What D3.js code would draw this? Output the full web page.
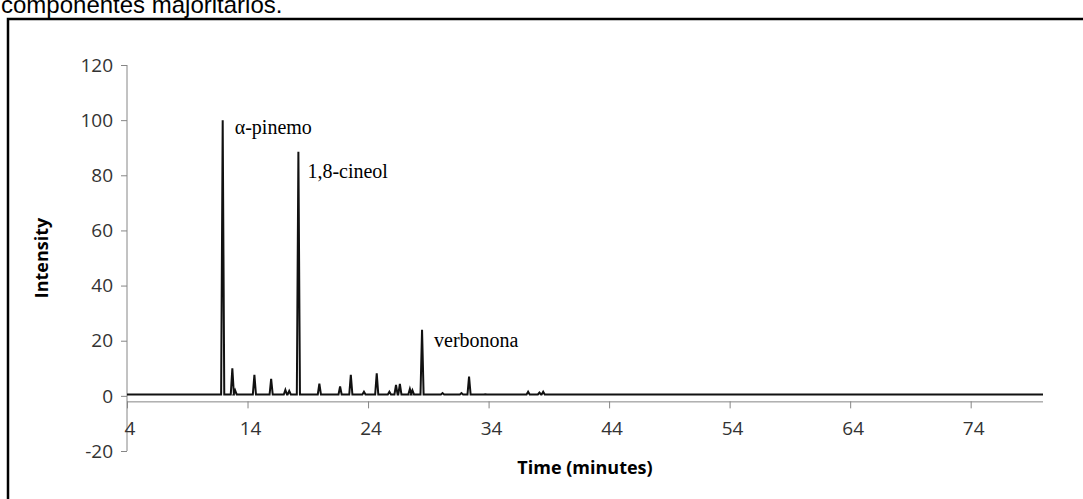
<!DOCTYPE html>
<html>
<head>
<meta charset="utf-8">
<script src="https://cdn.jsdelivr.net/npm/d3@7"></script>
<style>
  body { margin: 0; background: #fff; overflow: hidden; }
  svg { display: block; }
  .tick-label { font-family: "Open Sans", sans-serif; font-size: 19px; fill: #333; }
  .axis-title { font-family: "Open Sans", sans-serif; font-size: 18px; font-weight: bold; fill: #000; }
  .peak-label { font-family: "Liberation Serif", serif; font-size: 20px; fill: #000; }
</style>
</head>
<body>
<script>
// peak retention times (minutes) and intensities
const peakTimes = [11.94, 12.74, 12.97, 14.57, 15.96, 17.14, 17.46, 18.22, 19.96, 21.68, 22.57, 23.66,
                   24.72, 25.77, 26.32, 26.64, 27.47, 27.68, 28.48, 30.18, 31.75, 32.38, 33.73, 34.77,
                   37.28, 38.22, 38.53, 45.73];
const peakHeights = [100, 10, 2, 7.6, 6.2, 2.2, 1.8, 88.5, 4.4, 3.4, 7.6, 1.5,
                     8.2, 1.5, 4, 4.3, 2.5, 2, 24, 1, 1, 7, 0.6, 0.5,
                     1.5, 1.2, 1.5, 0.5];
const baselineLevel = 0.5;
const timeRange = [4, 80];

const xTicks = [4, 14, 24, 34, 44, 54, 64, 74];
const yTicks = [-20, 0, 20, 40, 60, 80, 100, 120];

const labelNames = ['α-pinemo', '1,8-cineol', 'verbonona'];
const labelPeaks = [11.94, 18.22, 28.48];
const labelLevels = [95, 79, 17.8];

const width = 1083, height = 499;
const svg = d3.select('body').append('svg')
    .attr('width', width)
    .attr('height', height);

// caption text cut off at the top of the page
svg.append('text')
    .attr('x', 1)
    .attr('y', 13)
    .style('font-family', '"Liberation Sans", Arial, sans-serif')
    .style('font-size', '24px')
    .text('componentes majoritarios.');

// outer frame
svg.append('rect')
    .attr('x', 8)
    .attr('y', 19)
    .attr('width', 1090)
    .attr('height', 520)
    .attr('fill', 'none')
    .attr('stroke', '#000')
    .attr('stroke-width', 2.5);

const x = d3.scaleLinear().domain(timeRange).range([127, 1043]);
const y = d3.scaleLinear().domain([-20, 120]).range([451, 65]);

const axisColor = '#868686';
const xAxisLevel = -2;

// y axis
const yAxis = svg.append('g');
yAxis.append('line')
    .attr('x1', x(4)).attr('x2', x(4))
    .attr('y1', y(120)).attr('y2', y(-20))
    .attr('stroke', axisColor);
yAxis.selectAll('line.tick')
    .data(yTicks)
    .join('line')
    .attr('class', 'tick')
    .attr('x1', x(4) - 6).attr('x2', x(4))
    .attr('y1', d => y(d) + 0.5).attr('y2', d => y(d) + 0.5)
    .attr('stroke', axisColor);
yAxis.selectAll('text')
    .data(yTicks)
    .join('text')
    .attr('class', 'tick-label')
    .attr('x', 113)
    .attr('y', d => y(d))
    .attr('dy', '0.35em')
    .attr('text-anchor', 'end')
    .text(d => d);

// x axis (drawn slightly below zero, as in the original)
const xAxis = svg.append('g');
xAxis.append('line')
    .attr('x1', x(timeRange[0])).attr('x2', x(timeRange[1]))
    .attr('y1', y(xAxisLevel) + 0.5).attr('y2', y(xAxisLevel) + 0.5)
    .attr('stroke', axisColor);
xAxis.selectAll('line.tick')
    .data(xTicks)
    .join('line')
    .attr('class', 'tick')
    .attr('x1', d => x(d) + 0.5).attr('x2', d => x(d) + 0.5)
    .attr('y1', y(xAxisLevel)).attr('y2', y(xAxisLevel) + 7)
    .attr('stroke', axisColor);
xAxis.selectAll('text')
    .data(xTicks)
    .join('text')
    .attr('class', 'tick-label')
    .attr('x', d => x(d) + 3)
    .attr('y', 428)
    .attr('dy', '0.35em')
    .attr('text-anchor', 'middle')
    .text(d => d);

// axis titles
svg.append('text')
    .attr('class', 'axis-title')
    .attr('transform', `translate(48,${(y(120) + y(-20)) / 2}) rotate(-90)`)
    .attr('text-anchor', 'middle')
    .text('Intensity');
svg.append('text')
    .attr('class', 'axis-title')
    .attr('x', (x(timeRange[0]) + x(timeRange[1])) / 2)
    .attr('y', 474)
    .attr('text-anchor', 'middle')
    .text('Time (minutes)');

// chromatogram trace: baseline with a narrow spike at every peak
const halfWidth = 0.13;
let tracePoints = [[timeRange[0], baselineLevel]];
peakTimes.forEach((t, i) => {
    tracePoints.push([t - halfWidth, baselineLevel]);
    tracePoints.push([t, peakHeights[i]]);
    tracePoints.push([t + halfWidth, baselineLevel]);
});
tracePoints.push([timeRange[1], baselineLevel]);

const line = d3.line()
    .x(d => x(d[0]))
    .y(d => y(d[1]));

svg.append('path')
    .datum(tracePoints)
    .attr('d', line)
    .attr('fill', 'none')
    .attr('stroke', '#111')
    .attr('stroke-width', 2)
    .attr('stroke-linejoin', 'miter');

// peak annotations
const labelOffsets = [12, 9, 12];
svg.selectAll('text.peak-label')
    .data(labelNames)
    .join('text')
    .attr('class', 'peak-label')
    .attr('x', (d, i) => x(labelPeaks[i]) + labelOffsets[i])
    .attr('y', (d, i) => y(labelLevels[i]))
    .text(d => d);
</script>
</body>
</html>
